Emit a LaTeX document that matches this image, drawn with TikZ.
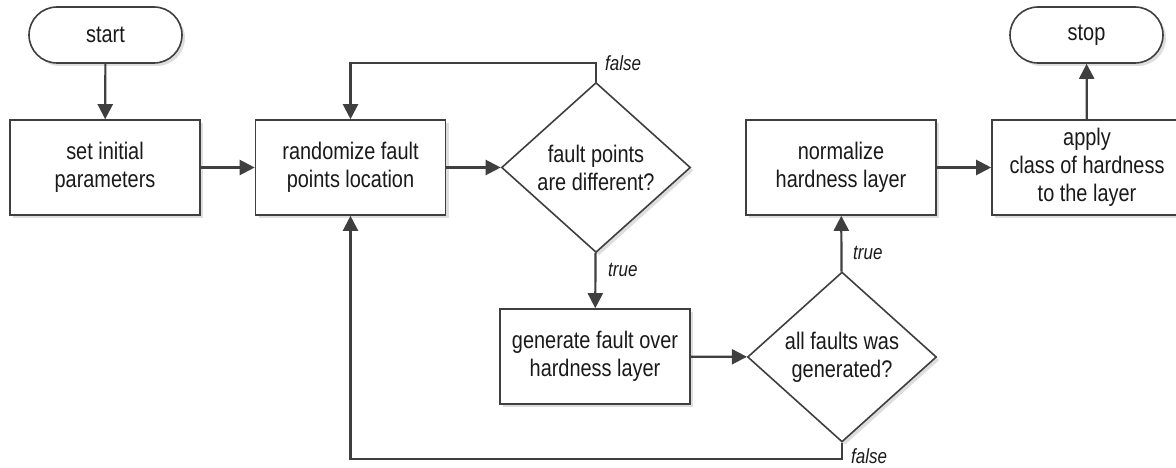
\documentclass[tikz,border=0pt]{standalone}
\usepackage{fontspec}
\setmainfont{Liberation Sans}[FakeStretch=0.83]
\usetikzlibrary{shapes.geometric,arrows.meta,shadows}
\definecolor{linegray}{HTML}{3F3F3F}
\definecolor{textgray}{HTML}{1A1A1A}
\begin{document}
\begin{tikzpicture}[x=1pt,y=-1pt,
  every node/.style={text=textgray},
  shade/.style={drop shadow={shadow xshift=3pt,shadow yshift=-3pt,fill=black!13,opacity=1}},
  body/.style={font=\fontsize{24pt}{28pt}\selectfont,align=center},
  process/.style={body,draw=linegray,line width=1.6pt,fill=white,shade,
    minimum width=190pt,minimum height=95pt,inner sep=0pt},
  terminal/.style={body,draw=linegray,line width=1.6pt,fill=white,shade,
    rounded corners=28pt,minimum width=153pt,minimum height=56pt,inner sep=0pt},
  decision/.style={body,draw=linegray,line width=1.6pt,fill=white,shade,
    diamond,aspect=1.11,minimum width=189pt,minimum height=170pt,inner sep=0pt},
  flow/.style={draw=linegray,line width=2.2pt,-{Triangle[length=15pt,width=15pt]}},
  branch/.style={font=\itshape\fontsize{20.5pt}{24pt}\selectfont,inner sep=0pt,anchor=west}
]
\useasboundingbox (0,0) rectangle (1176,468);

% nodes
\node[terminal] (start) at (105.5,35) {start};
\node[process]  (init)  at (105,167.5) {set initial\\parameters};
\node[process]  (rand)  at (350.5,167.5) {randomize fault\\points location};
\node[decision] (diff)  at (596,167.5) {fault points\\are different?};
\node[process]  (gen)   at (595,356.5) {generate fault over\\hardness layer};
\node[decision] (all)   at (842,357) {all faults was\\generated?};
\node[process]  (norm)  at (841,167.5) {normalize\\hardness layer};
\node[process]  (apply) at (1087,167.5) {apply\\class of hardness\\to the layer};
\node[terminal] (stop)  at (1086.5,35) {stop};

% loop corners
\coordinate (topturn) at (596,63);
\coordinate (botturn) at (842,459);

% connectors
\draw[flow] (start) -- (init);
\draw[flow] (init) -- (rand);
\draw[flow] (rand) -- (diff);
\draw[flow] (diff.north) -- (topturn) -| (rand.north);
\draw[flow] (diff) -- (gen);
\draw[flow] (gen) -- (all);
\draw[flow] (all) -- (norm);
\draw[flow] (all.south) -- (botturn) -| (rand.south);
\draw[flow] (norm) -- (apply);
\draw[flow] (apply) -- (stop);

% branch labels
\node[branch] (lf1) at (605,63) {false};
\node[branch] (lt1) at (608,270) {true};
\node[branch] (lt2) at (853,253) {true};
\node[branch] (lf2) at (851,456) {false};
\end{tikzpicture}
\end{document}
